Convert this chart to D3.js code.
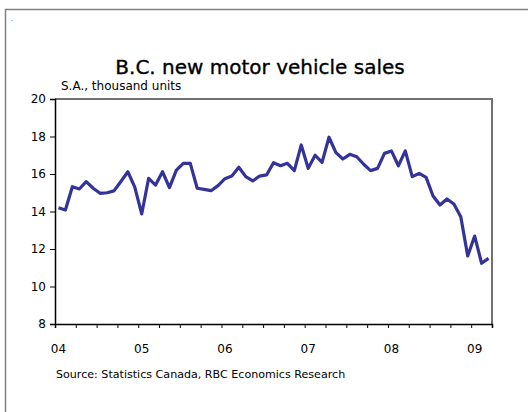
<!DOCTYPE html>
<html>
<head>
<meta charset="utf-8">
<script src="https://cdn.jsdelivr.net/npm/d3@7"></script>
<style>
  body { margin: 0; background: #fff; }
  svg { display: block; }
  text { font-family: "DejaVu Sans", Verdana, sans-serif; fill: #000; }
</style>
</head>
<body>
<svg id="chart" width="528" height="412"></svg>
<script>
// monthly sales, Jan 2004 .. Mar 2009 (thousand units, s.a.)
const startYear = 2004;
const sales = [
  14.2, 14.08, 15.32, 15.2, 15.59, 15.24, 14.97, 15.0, 15.1, 15.6, 16.12, 15.3,
  13.87, 15.77, 15.41, 16.12, 15.27, 16.21, 16.57, 16.57, 15.24, 15.18, 15.11, 15.38,
  15.75, 15.89, 16.36, 15.86, 15.63, 15.89, 15.95, 16.6, 16.44, 16.57, 16.18, 17.55,
  16.3, 17.0, 16.62, 17.96, 17.14, 16.8, 17.05, 16.92, 16.52, 16.18, 16.3, 17.1,
  17.23, 16.44, 17.23, 15.86, 16.03, 15.82, 14.83, 14.35, 14.67, 14.4, 13.72, 11.63,
  12.69, 11.24, 11.5
];
const yearLabels = ["04", "05", "06", "07", "08", "09"];
const yTicks = [8, 10, 12, 14, 16, 18, 20];

const svg = d3.select("#chart");
const m = { left: 55, top: 99, right: 492, bottom: 324 };

const x = d3.scaleLinear().domain([0, sales.length]).range([m.left, m.right]);
const y = d3.scaleLinear().domain([8, 20]).range([m.bottom, m.top]);

// outer frame
svg.append("rect")
  .attr("x", 5.5).attr("y", 9.5)
  .attr("width", 540).attr("height", 420)
  .attr("fill", "none").attr("stroke", "#808080").attr("stroke-width", 1.5);

svg.append("text").attr("x", 11).attr("y", 21).attr("font-size", 6).text(".");

svg.append("text")
  .attr("x", 260).attr("y", 74)
  .attr("text-anchor", "middle")
  .attr("font-size", 20)
  .attr("stroke", "#000").attr("stroke-width", 0.35)
  .text("B.C. new motor vehicle sales");

svg.append("text")
  .attr("x", 61).attr("y", 90)
  .attr("font-size", 12)
  .text("S.A., thousand units");

// top + right plot border in gray
svg.append("path")
  .attr("d", `M${m.left},${m.top}H${m.right}V${m.bottom}`)
  .attr("fill", "none").attr("stroke", "#707070").attr("stroke-width", 2);

// y axis
const yAxis = svg.append("g")
  .attr("transform", `translate(${m.left},0)`)
  .call(d3.axisLeft(y).tickValues(yTicks).tickSize(5).tickPadding(4).tickFormat(d3.format("d")));
yAxis.selectAll("text").attr("font-size", 12).style("font-family", '"DejaVu Sans", Verdana, sans-serif');

// x axis: quarterly ticks, labels under each January point
const xAxis = svg.append("g")
  .attr("transform", `translate(0,${m.bottom})`)
  .call(d3.axisBottom(x).tickValues(d3.range(0, sales.length + 1, 3)).tickSize(4).tickFormat(""));

[yAxis, xAxis].forEach(g => {
  g.select(".domain").attr("stroke", "#000").attr("stroke-width", 1.5);
  g.selectAll(".tick line").attr("stroke", "#000");
});

svg.append("g").selectAll("text")
  .data(yearLabels)
  .join("text")
  .attr("x", (d, i) => x(i * 12 + 0.5))
  .attr("y", 353)
  .attr("text-anchor", "middle")
  .attr("font-size", 12)
  .text(d => d);

// the series
const line = d3.line()
  .x((d, i) => x(i + 0.5))
  .y(d => y(d));

svg.append("path")
  .datum(sales)
  .attr("d", line)
  .attr("fill", "none")
  .attr("stroke", "#333399")
  .attr("stroke-width", 3.2)
  .attr("stroke-linejoin", "round");

svg.append("text")
  .attr("x", 56).attr("y", 378)
  .attr("font-size", 11.1)
  .text("Source: Statistics Canada, RBC Economics Research");
</script>
</body>
</html>
